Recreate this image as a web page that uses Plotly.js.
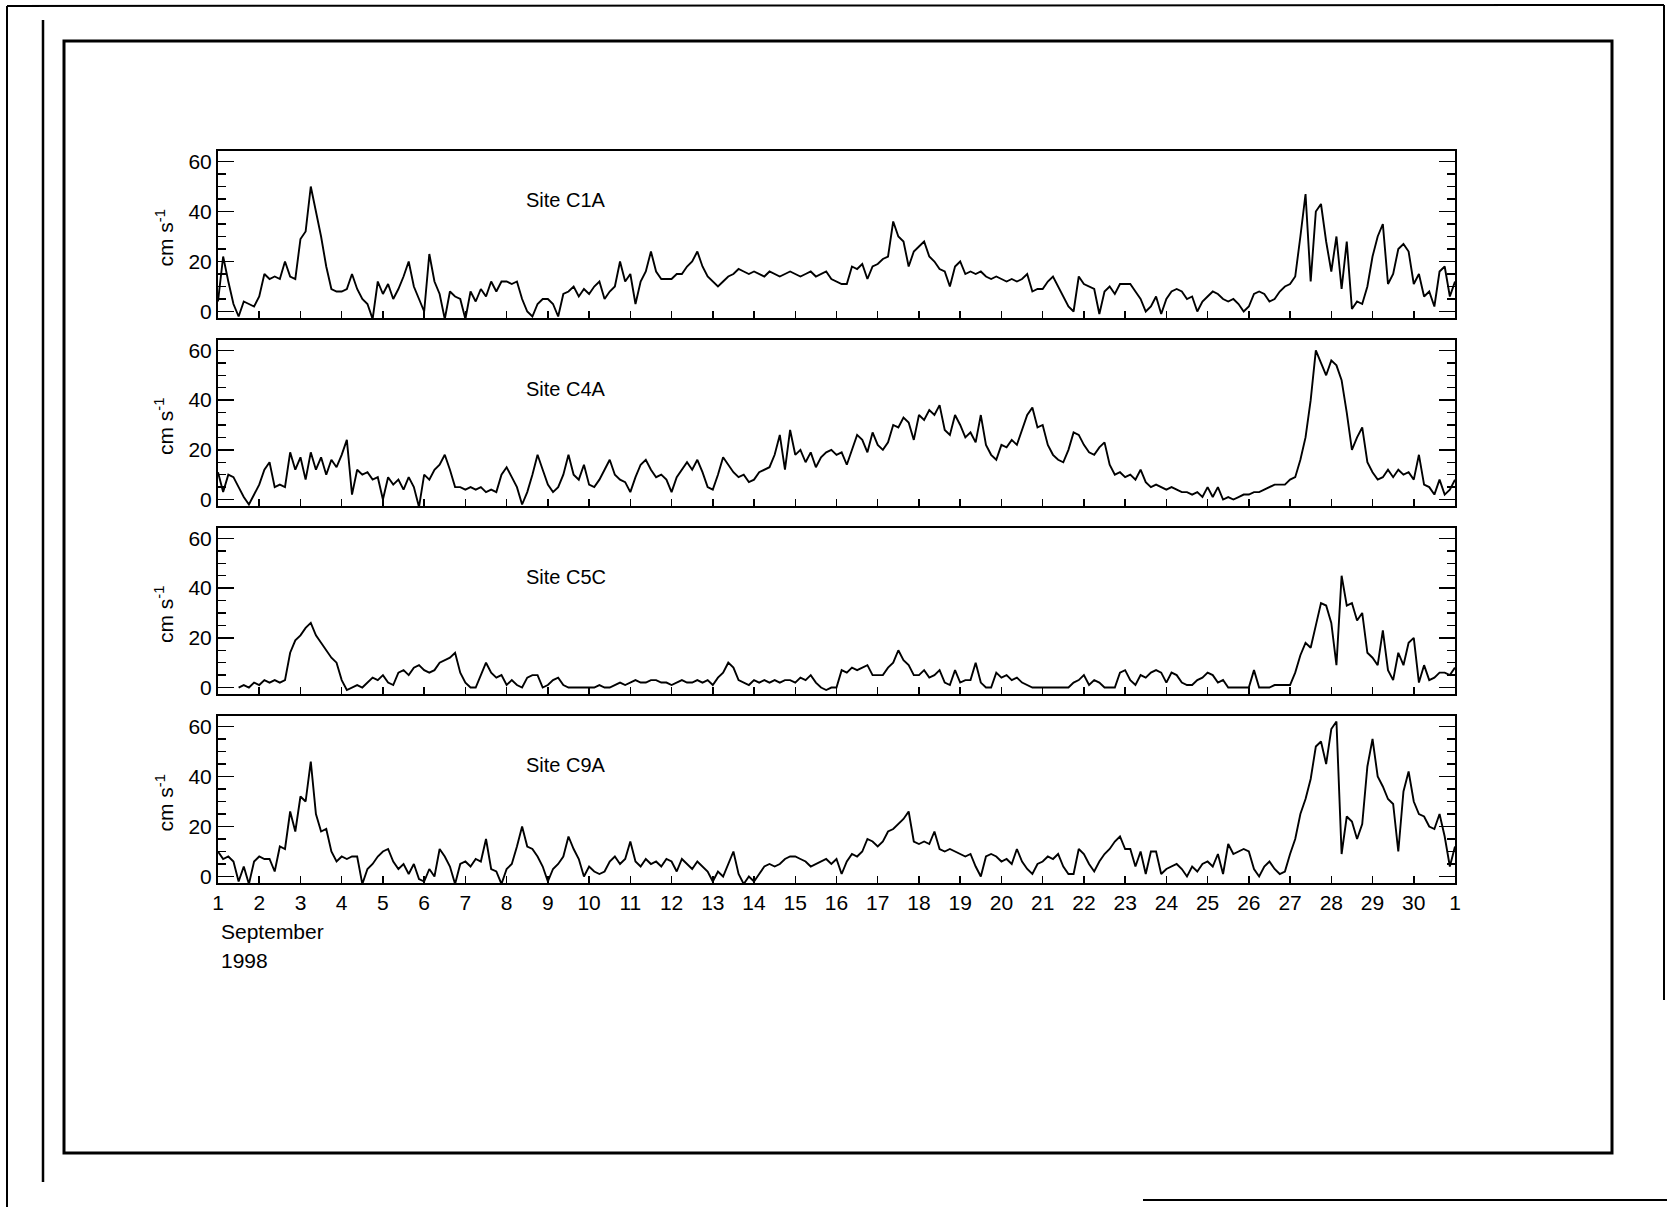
<!DOCTYPE html>
<html>
<head>
<meta charset="utf-8">
<script src="https://cdn.plot.ly/plotly-3.0.1.min.js"></script>
<style>
  html, body { margin: 0; padding: 0; background: #ffffff; }
  #chart { width: 1667px; height: 1210px; }
</style>
</head>
<body>
<div id="chart"></div>
<script>
// ---- Data: current speed (cm s-1), 3-hourly, 1 Sep 1998 00:00 -> 1 Oct 1998 00:00 ----
const startDay = 1;          // 1 September
const stepDays = 0.125;      // 3 hours
const siteNames = ["Site C1A", "Site C4A", "Site C5C", "Site C9A"];
const dayTickValues = [1,2,3,4,5,6,7,8,9,10,11,12,13,14,15,16,17,18,19,20,21,22,23,24,25,26,27,28,29,30,31];
const dayTickLabels = ["1","2","3","4","5","6","7","8","9","10","11","12","13","14","15","16","17","18","19","20","21","22","23","24","25","26","27","28","29","30","1"];
const speedTickValues = [0, 20, 40, 60];

const c1a = [
  4, 22, 12, 3, -2, 4, 3, 2,
  6, 15, 13, 14, 13, 20, 14, 13,
  29, 32, 50, 40, 30, 18, 9, 8,
  8, 9, 15, 9, 5, 3, -3, 12,
  7, 11, 5, 9, 14, 20, 10, 5,
  0, 23, 12, 7, -3, 8, 6, 5,
  -3, 8, 4, 9, 6, 12, 8, 12,
  12, 11, 12, 5, 0, -2, 3, 5,
  5, 3, -2, 7, 8, 10, 6, 9,
  7, 10, 12, 5, 8, 10, 20, 12,
  15, 3, 12, 16, 24, 16, 13, 13,
  13, 15, 15, 18, 20, 24, 18, 14,
  12, 10, 12, 14, 15, 17, 16, 15,
  16, 15, 14, 16, 15, 14, 15, 16,
  15, 14, 15, 16, 14, 15, 16, 13,
  12, 11, 11, 18, 17, 19, 13, 18,
  19, 21, 22, 36, 30, 28, 18, 24,
  26, 28, 22, 20, 17, 16, 10, 18,
  20, 15, 16, 15, 16, 14, 13, 14,
  13, 12, 13, 12, 13, 15, 8, 9,
  9, 12, 14, 10, 6, 2, 0, 14,
  11, 10, 9, -1, 8, 10, 7, 11,
  11, 11, 8, 5, 0, 2, 6, -1,
  5, 8, 9, 8, 5, 6, 0, 4,
  6, 8, 7, 5, 4, 5, 3, 0,
  2, 7, 8, 7, 4, 5, 8, 10,
  11, 14, 30, 47, 12, 40, 43, 28,
  16, 30, 9, 28, 1, 4, 3, 10,
  22, 30, 35, 11, 15, 25, 27, 24,
  11, 15, 6, 8, 2, 16, 18, 6,
  12
];

const c4a = [
  11, 3, 10, 9, 5, 1, -2, 2,
  6, 12, 15, 5, 6, 5, 19, 12,
  17, 8, 19, 12, 17, 10, 16, 13,
  18, 24, 2, 12, 10, 11, 8, 9,
  0, 9, 6, 8, 4, 9, 5, -3,
  10, 8, 12, 14, 18, 12, 5, 5,
  4, 5, 4, 5, 3, 4, 3, 10,
  13, 9, 5, -2, 3, 10, 18, 12,
  6, 3, 5, 10, 18, 10, 8, 14,
  6, 5, 8, 12, 16, 10, 8, 7,
  3, 9, 14, 16, 12, 9, 10, 8,
  3, 9, 12, 15, 12, 16, 11, 5,
  4, 10, 17, 14, 11, 9, 10, 7,
  8, 11, 12, 13, 18, 26, 12, 28,
  18, 20, 15, 19, 13, 17, 19, 20,
  18, 19, 14, 20, 26, 24, 19, 27,
  22, 20, 23, 30, 29, 33, 31, 24,
  34, 32, 36, 34, 38, 28, 26, 34,
  30, 25, 27, 23, 34, 22, 18, 16,
  22, 21, 24, 22, 28, 34, 37, 29,
  30, 22, 18, 16, 15, 20, 27, 26,
  22, 19, 18, 21, 23, 14, 10, 11,
  9, 10, 8, 12, 7, 5, 6, 5,
  4, 5, 4, 3, 3, 2, 3, 1,
  5, 1, 5, 0, 1, 0, 1, 2,
  2, 3, 3, 4, 5, 6, 6, 6,
  8, 9, 16, 25, 40, 60, 55, 50,
  56, 54, 48, 35, 20, 25, 29, 15,
  11, 8, 9, 12, 9, 12, 10, 11,
  8, 18, 6, 5, 2, 8, 2, 4,
  8
];

const c5c = [
  null, null, null, null, 0, 1, 0, 2,
  1, 3, 2, 3, 2, 3, 14, 19,
  21, 24, 26, 21, 18, 15, 12, 10,
  3, -1, 0, 1, 0, 2, 4, 3,
  5, 2, 1, 6, 7, 5, 8, 9,
  7, 6, 7, 10, 11, 12, 14, 6,
  2, 0, 0, 5, 10, 6, 4, 5,
  1, 3, 1, 0, 4, 5, 5, 0,
  1, 3, 4, 1, 0, 0, 0, 0,
  0, 0, 1, 0, 0, 1, 2, 1,
  2, 3, 2, 2, 3, 3, 2, 2,
  1, 2, 3, 2, 2, 3, 2, 3,
  1, 4, 6, 10, 8, 3, 2, 1,
  3, 2, 3, 2, 3, 2, 3, 3,
  2, 4, 3, 5, 2, 0, -1, 0,
  0, 7, 6, 8, 7, 8, 9, 5,
  5, 5, 8, 10, 15, 11, 9, 5,
  5, 7, 4, 5, 7, 2, 1, 7,
  2, 3, 3, 10, 2, 0, 0, 6,
  4, 5, 3, 4, 2, 1, 0, 0,
  0, 0, 0, 0, 0, 0, 2, 3,
  5, 1, 3, 2, 0, 0, 0, 6,
  7, 3, 1, 5, 4, 6, 7, 6,
  2, 6, 5, 2, 1, 1, 3, 4,
  6, 5, 2, 3, 0, 0, 0, 0,
  0, 7, 0, 0, 0, 1, 1, 1,
  1, 6, 13, 18, 16, 25, 34, 33,
  26, 9, 45, 33, 34, 27, 30, 14,
  12, 9, 23, 7, 3, 14, 9, 18,
  20, 2, 9, 3, 4, 6, 6, 5,
  8
];

const c9a = [
  10, 7, 8, 6, -2, 4, -3, 6,
  8, 7, 7, 2, 12, 11, 26, 18,
  32, 30, 46, 25, 18, 19, 10, 6,
  8, 7, 8, 8, -3, 3, 5, 8,
  10, 11, 6, 3, 5, 1, 5, -1,
  -2, 3, 0, 11, 8, 4, -3, 5,
  6, 4, 7, 6, 15, 3, 2, -3,
  3, 5, 12, 20, 12, 11, 8, 4,
  -2, 3, 5, 8, 16, 11, 7, 0,
  4, 2, 1, 2, 6, 8, 5, 7,
  14, 6, 4, 7, 5, 6, 4, 7,
  6, 2, 7, 5, 3, 6, 4, 2,
  -2, 2, 0, 5, 10, 1, -3, 0,
  -2, 1, 4, 5, 4, 5, 7, 8,
  8, 7, 6, 4, 5, 6, 7, 5,
  7, 1, 6, 9, 8, 10, 15, 14,
  12, 14, 18, 19, 21, 23, 26, 14,
  13, 14, 13, 18, 11, 10, 11, 10,
  9, 8, 9, 4, 0, 8, 9, 8,
  6, 7, 5, 11, 6, 3, 1, 5,
  6, 8, 7, 9, 4, 1, 1, 11,
  9, 5, 2, 6, 9, 11, 14, 16,
  11, 11, 4, 10, 1, 10, 10, 1,
  3, 4, 5, 3, 0, 4, 2, 5,
  6, 4, 9, 1, 13, 9, 10, 11,
  10, 3, 0, 4, 6, 3, 1, 2,
  9, 15, 25, 31, 39, 52, 54, 45,
  59, 62, 9, 24, 22, 15, 21, 44,
  55, 40, 36, 31, 29, 10, 34, 42,
  30, 25, 24, 20, 19, 25, 16, 4,
  12
];

// ---- Layout geometry (canvas pixels) ----
const W = 1667, H = 1210;
const px = v => v / W;
const py = v => 1 - v / H;
const plotLeft = 218, plotRight = 1455;
const panels = [ [151, 318], [340, 506], [528, 694], [716, 883] ];
const series = [c1a, c4a, c5c, c9a];

const FONT = "Liberation Sans, Arial, Helvetica, sans-serif";
const traces = [];
const layout = {
  width: W, height: H,
  margin: {l: 0, r: 0, t: 0, b: 0},
  paper_bgcolor: "#ffffff",
  plot_bgcolor: "#ffffff",
  showlegend: false,
  font: {family: FONT, color: "#000000", size: 20},
  annotations: [],
  shapes: []
};

series.forEach((vals, i) => {
  const xs = vals.map((_, k) => startDay + k * stepDays);
  const sfx = i === 0 ? "" : String(i + 1);
  traces.push({
    type: "scatter", mode: "lines",
    x: xs, y: vals,
    xaxis: "x" + sfx, yaxis: "y" + sfx,
    connectgaps: false,
    line: {color: "#000000", width: 1.9},
    hoverinfo: "skip"
  });
  const [top, bot] = panels[i];
  layout["xaxis" + sfx] = {
    domain: [px(plotLeft), px(plotRight)],
    anchor: "y" + sfx,
    range: [1, 31],
    tickmode: "array",
    tickvals: dayTickValues,
    ticktext: dayTickLabels,
    showticklabels: i === 3,
    ticks: "inside", ticklen: 7, tickwidth: 1.5, tickcolor: "#000",
    showline: true, linecolor: "#000", linewidth: 2, mirror: true,
    showgrid: false, zeroline: false,
    tickfont: {family: FONT, size: 21, color: "#000"},
    fixedrange: true
  };
  layout["yaxis" + sfx] = {
    domain: [py(bot), py(top)],
    anchor: "x" + sfx,
    range: [-2.6, 64.2],
    tickmode: "array",
    tickvals: speedTickValues,
    ticks: "inside", ticklen: 16, tickwidth: 1.5, tickcolor: "#000",
    minor: {dtick: 5, tick0: 0, ticks: "inside", ticklen: 8, tickwidth: 1.5, tickcolor: "#000", showgrid: false},
    showline: true, linecolor: "#000", linewidth: 2, mirror: "ticks",
    showgrid: false, zeroline: false,
    tickfont: {family: FONT, size: 21, color: "#000"},
    fixedrange: true
  };
  // site label
  layout.annotations.push({
    xref: "paper", yref: "paper",
    x: px(524), y: py(top + 49),
    xanchor: "left", yanchor: "middle",
    text: siteNames[i], showarrow: false,
    font: {family: FONT, size: 20, color: "#000"}
  });
  // y-axis title
  layout.annotations.push({
    xref: "paper", yref: "paper",
    x: px(164), y: py((top + bot) / 2 + 4),
    xanchor: "center", yanchor: "middle",
    text: "cm s<sup>-1</sup>", textangle: -90, showarrow: false,
    font: {family: FONT, size: 21, color: "#000"}
  });
});

layout.annotations.push({
  xref: "paper", yref: "paper", x: px(219), y: py(931),
  xanchor: "left", yanchor: "middle", showarrow: false,
  text: "September", font: {family: FONT, size: 21, color: "#000"}
});
layout.annotations.push({
  xref: "paper", yref: "paper", x: px(219), y: py(960),
  xanchor: "left", yanchor: "middle", showarrow: false,
  text: "1998", font: {family: FONT, size: 21, color: "#000"}
});

// page frames of the scanned figure
const line = (x0, y0, x1, y1, w) => ({
  type: "line", xref: "paper", yref: "paper",
  x0: px(x0), y0: py(y0), x1: px(x1), y1: py(y1),
  line: {color: "#000", width: w}
});
layout.shapes.push(
  // inner frame
  {type: "rect", xref: "paper", yref: "paper",
   x0: px(64), y0: py(1153), x1: px(1612), y1: py(41),
   line: {color: "#000", width: 3}, fillcolor: "rgba(0,0,0,0)"},
  // vertical rule at left
  line(43, 20, 43, 1182, 2.5),
  // outer page edge lines
  line(7, 6, 1664, 5, 2),
  line(7, 6, 7, 1207, 2),
  line(1664, 5, 1664, 1000, 2),
  line(1143, 1200, 1667, 1200, 2)
);

Plotly.newPlot("chart", traces, layout, {displayModeBar: false, staticPlot: true});
</script>
</body>
</html>
